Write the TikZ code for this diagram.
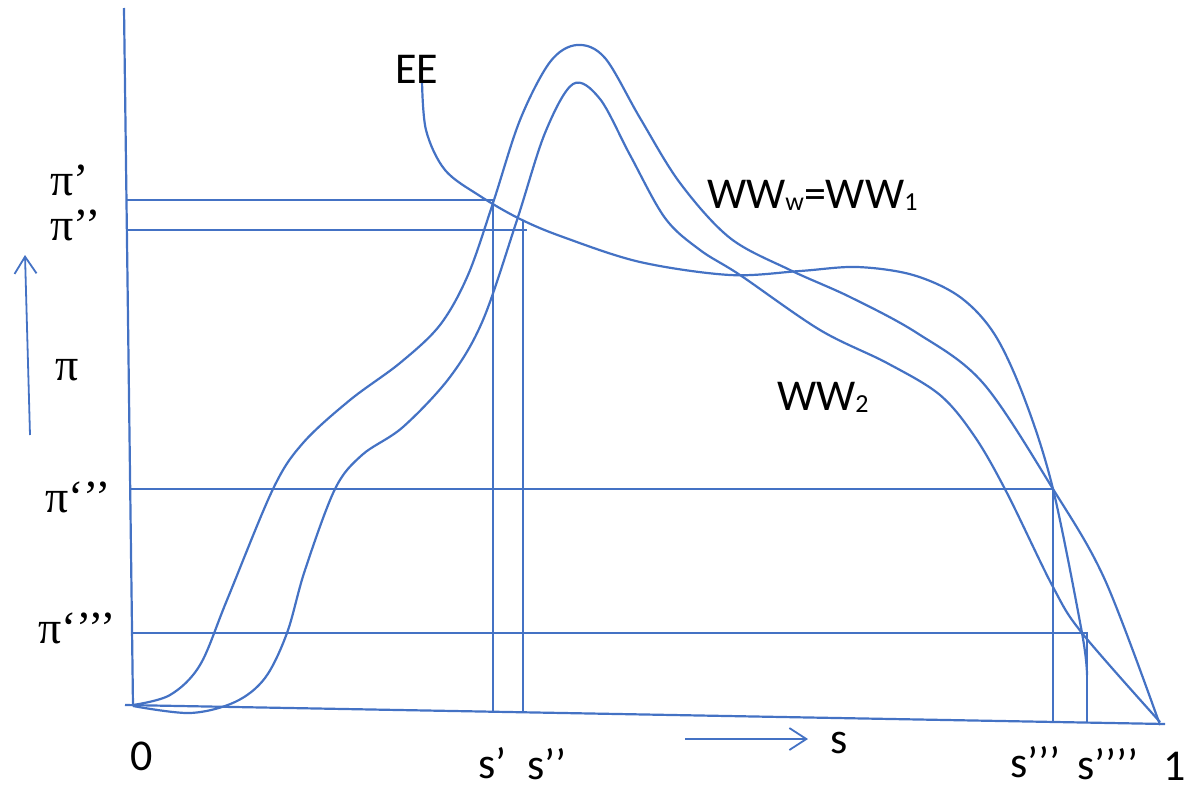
\documentclass[tikz,border=0pt]{standalone}
\usepackage{fontspec}
\setmainfont{Carlito}
\newfontfamily\pifont{Liberation Serif}
\usetikzlibrary{arrows.meta}
\definecolor{lineblue}{RGB}{68,114,196}
\begin{document}
\begin{tikzpicture}[x=1pt,y=-1pt,
  curve/.style={draw=lineblue, line width=2.2pt},
  guide/.style={draw=lineblue, line width=2.2pt},
  lbl/.style={anchor=base west, inner sep=0pt, font=\fontsize{44}{52}\selectfont},
  pilbl/.style={anchor=base west, inner sep=0pt, font=\fontsize{46}{54}\selectfont\pifont},
  dirarrow/.style={draw=lineblue, line width=1.8pt, -{Straight Barb[length=17pt,width=22pt,line width=1.8pt]}}
]
\useasboundingbox (0,0) rectangle (1186,790);

% axes
\coordinate (ytop) at (124,8);
\coordinate (O) at (133,706);
\coordinate (xl) at (125,705);
\coordinate (xr) at (1165,724);
\draw[guide] (ytop) -- (O);
\draw[guide] (xl) -- (xr);

% guide lines
\coordinate (p1l) at (127,200); \coordinate (p1r) at (493,200); \coordinate (s1b) at (493,712);
\coordinate (p2l) at (128,230); \coordinate (p2r) at (527,230);
\coordinate (s2t) at (523,221); \coordinate (s2b) at (523,713);
\coordinate (p3l) at (131,489); \coordinate (p3r) at (1053,489); \coordinate (s3b) at (1053,722);
\coordinate (p4l) at (132,633); \coordinate (p4r) at (1087,633); \coordinate (s4b) at (1087,723);
\draw[guide] (p1l) -- (p1r) -- (s1b);
\draw[guide] (p2l) -- (p2r);
\draw[guide] (s2t) -- (s2b);
\draw[guide] (p3l) -- (p3r) -- (s3b);
\draw[guide] (p4l) -- (p4r) -- (s4b);

% outer curve (WW_w = WW_1)
\draw[curve] plot[smooth, tension=0.55] coordinates {
 (133,705) (170,695) (200,665) (227,600) (273,489) (303,443) (350,400) (400,363)
 (440,325) (468,275) (493,203) (520,120) (550,62) (577,45) (605,58) (640,118)
 (680,183) (730,238) (790,270) (850,297) (917,333) (983,383) (1053,489)
 (1105,580) (1160,725)};

% inner curve (WW_2)
\draw[curve] plot[smooth, tension=0.55] coordinates {
 (133,706) (190,713) (235,702) (265,678) (287,633) (305,570) (335,489) (362,455)
 (403,427) (450,377) (483,320) (517,220) (545,133) (573,84) (600,99) (630,155)
 (665,218) (700,250) (740,275) (820,330) (887,363) (940,395) (975,437)
 (1007,493) (1053,587) (1082,633) (1160,722)};

% EE curve
\draw[curve] plot[smooth, tension=0.55] coordinates {
 (422,80) (426,130) (445,170) (480,196) (520,219) (563,237) (640,262)
 (730,275) (800,271) (857,267) (913,275) (960,297) (995,335) (1025,400)
 (1053,489) (1082,633) (1087,675)};

% direction arrows
\coordinate (ya1) at (30,435); \coordinate (ya2) at (25,255);
\coordinate (xa1) at (685,739); \coordinate (xa2) at (808,739);
\draw[dirarrow] (ya1) -- (ya2);
\draw[dirarrow] (xa1) -- (xa2);

% labels
\node[lbl] (lee) at (395,83) {EE};
\node[lbl] (lww1) at (707,208) {WW\raisebox{-0.05em}{\fontsize{26}{26}\selectfont w}=WW\raisebox{-0.05em}{\fontsize{26}{26}\selectfont 1}};
\node[lbl] (lww2) at (777,410) {WW\raisebox{-0.05em}{\fontsize{26}{26}\selectfont 2}};
\node[pilbl] (lp1) at (50,195) {π’};
\node[pilbl] (lp2) at (50,240) {π’’};
\node[pilbl] (lp) at (55,380) {π};
\node[pilbl] (lp3) at (45,512) {π‘’’};
\node[pilbl] (lp4) at (38,643) {π‘’’’};
\node[lbl] (l0) at (130,770) {0};
\node[lbl] (ls1) at (478,778) {s’};
\node[lbl] (ls2) at (527,779) {s’’};
\node[lbl] (ls3) at (1010,777) {s’’’};
\node[lbl] (ls4) at (1077,779) {s’’’’};
\node[lbl] (l1) at (1163,780) {1};
\node[lbl] (ls) at (830,753) {s};
\end{tikzpicture}
\end{document}
